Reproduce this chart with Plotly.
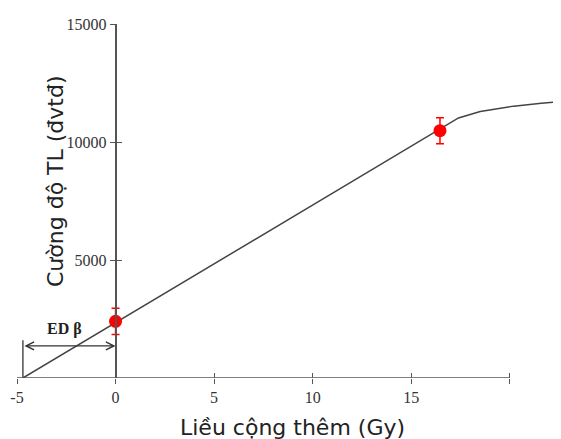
import plotly.graph_objects as go

# ---- data ----
dose_curve = [-4.7, 17.4, 18.5, 20.2, 21.6, 22.6]
signal_curve = [0, 11020, 11290, 11520, 11640, 11710]

dose_pts = [0, 16.46]
signal_pts = [2400, 10480]
signal_err = [560, 550]

ed_dose = -4.7          # x-intercept (ED beta)
ed_arrow_y = 1360       # height of the double arrow
ed_bar_top = 1600       # top of vertical marker line
ed_label_pos = (-2.6, 2080)

x_tickvals = [-5, 0, 5, 10, 15, 20]
x_ticktext = ["-5", "0", "5", "10", "15", ""]
y_tickvals = [5000, 10000, 15000]
y_ticktext = ["5000", "10000", "15000"]

x_range = [-5, 22.6]
y_range = [0, 15000]

axis_col = "#555555"
tick_font = dict(family="Liberation Serif", size=16, color="#333333")

# page body has an 8px default margin -> figure drawn offset by 8px
OFF = 8
W, H = 561 - OFF, 439 - OFF
ML, MR, MT, MB = 17 - OFF, 0, 24 - OFF, 61
PW, PH = W - ML - MR, H - MT - MB

fig = go.Figure()

# fitted curve
fig.add_trace(go.Scatter(x=dose_curve, y=signal_curve, mode="lines",
                         line=dict(color="#444444", width=1.5),
                         showlegend=False, hoverinfo="skip"))

# ED vertical marker
fig.add_trace(go.Scatter(x=[ed_dose, ed_dose], y=[0, ed_bar_top], mode="lines",
                         line=dict(color="#333333", width=1.3),
                         showlegend=False, hoverinfo="skip"))

# measured points
fig.add_trace(go.Scatter(x=dose_pts, y=signal_pts, mode="markers",
                         marker=dict(color="red", size=13),
                         error_y=dict(type="data", array=signal_err, color="red",
                                      thickness=1.5, width=4),
                         showlegend=False))

# dummy trace to activate overlay axes
fig.add_trace(go.Scatter(x=[None], y=[None], xaxis="x2", yaxis="y2",
                         showlegend=False, hoverinfo="skip"))

pos0 = (0 - x_range[0]) / (x_range[1] - x_range[0])

fig.update_layout(
    width=W, height=H,
    margin=dict(l=ML, r=MR, t=MT, b=MB, autoexpand=False),
    paper_bgcolor="white", plot_bgcolor="white",
    xaxis=dict(range=x_range, showgrid=False, zeroline=False, showline=False,
               automargin=False,
               tickvals=x_tickvals, ticktext=x_ticktext, ticks="outside",
               ticklen=5, tickwidth=1.3, tickcolor=axis_col, tickfont=tick_font),
    xaxis2=dict(range=x_range, overlaying="x", anchor="y", side="bottom",
                showgrid=False, zeroline=False, showline=False, automargin=False,
                tickvals=x_tickvals, ticks="inside", ticklen=5, tickwidth=1.3,
                tickcolor=axis_col, showticklabels=False),
    yaxis=dict(range=y_range, anchor="free", position=pos0, showgrid=False,
               zeroline=False, showline=True, linecolor=axis_col, linewidth=1.5,
               automargin=False,
               tickvals=y_tickvals, ticktext=y_ticktext, ticks="outside",
               ticklen=5, tickwidth=1.3, tickcolor=axis_col, tickfont=tick_font),
    yaxis2=dict(range=y_range, overlaying="y", anchor="free", position=pos0,
                showgrid=False, zeroline=False, showline=False, automargin=False,
                tickvals=y_tickvals, ticks="inside", ticklen=5, tickwidth=1.3,
                tickcolor=axis_col, showticklabels=False),
)

# x axis line from -5 to 20
fig.add_shape(type="line", xref="x", yref="y", x0=x_tickvals[0], x1=x_tickvals[-1],
              y0=0, y1=0, line=dict(color=axis_col, width=1.5))

# double arrow for ED
fig.add_annotation(x=0, y=ed_arrow_y, ax=ed_dose, ay=ed_arrow_y,
                   xref="x", yref="y", axref="x", ayref="y", text="",
                   showarrow=True, arrowhead=5, startarrowhead=5,
                   arrowside="end+start", arrowwidth=1.2, arrowsize=1.3,
                   startarrowsize=1.3, arrowcolor="#333333")
fig.add_annotation(x=ed_label_pos[0], y=ed_label_pos[1], xref="x", yref="y",
                   text="<b>ED β</b>", showarrow=False,
                   font=dict(family="Liberation Serif", size=16, color="#222222"))

# axis titles (page-pixel positions converted to paper coords)
def px_to_paper(px, py):
    return (px - OFF - ML) / PW, 1 - (py - OFF - MT) / PH

tx, ty = px_to_paper(292, 427)
fig.add_annotation(x=tx, y=ty, xref="paper", yref="paper",
                   xanchor="center", yanchor="middle",
                   text="Liều cộng thêm (Gy)", showarrow=False,
                   font=dict(family="DejaVu Sans", size=22, color="#222222"))
tx, ty = px_to_paper(55, 181)
fig.add_annotation(x=tx, y=ty, xref="paper", yref="paper",
                   xanchor="center", yanchor="middle",
                   text="Cường độ TL (đvtđ)", showarrow=False, textangle=-90,
                   font=dict(family="DejaVu Sans", size=22, color="#222222"))

fig.write_html("out.html")
